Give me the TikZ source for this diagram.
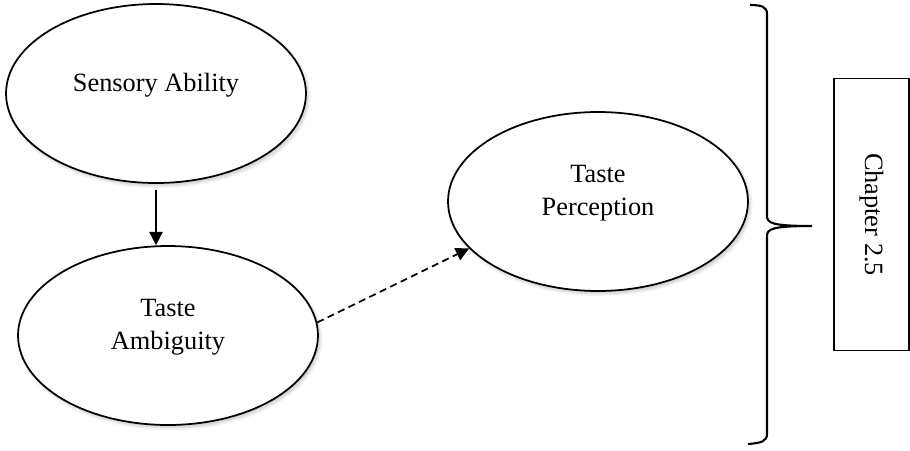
\documentclass[tikz,border=0pt]{standalone}
\usepackage{fontspec}
\setmainfont{Liberation Serif}
\usetikzlibrary{arrows.meta,shadows.blur,shapes.geometric}

\tikzset{
  oval/.style={ellipse, draw=black, line width=1pt, fill=white,
    minimum width=6cm, minimum height=3.58cm, inner sep=0pt,
    blur shadow={shadow xshift=1.2pt, shadow yshift=-1.6pt,
      shadow blur steps=6, shadow opacity=22}},
  ovaltext/.style={align=center, yshift=0.16cm,
    font=\fontsize{15}{18.8}\selectfont},
  link/.style={line width=1pt, -{Triangle[length=7.5pt,width=7.5pt]}},
  dashlink/.style={link, dash pattern=on 4pt off 2.6pt},
  chapterbox/.style={draw=black, line width=1pt, rectangle, rotate=-90,
    minimum width=5.44cm, minimum height=1.5cm, inner sep=0pt,
    font=\fontsize{15}{18.8}\selectfont},
  bracket/.style={line width=1.2pt, line join=round}
}

\begin{document}
\begin{tikzpicture}[x=0.02cm, y=-0.02cm]
  \useasboundingbox (0,0) rectangle (910,450);

  % the three constructs
  \node[oval, label={[ovaltext, name=satext]center:Sensory Ability}] (sa) at (156,93.5) {};
  \node[oval, label={[ovaltext, name=tatext]center:Taste\\Ambiguity}] (ta) at (168,335.5) {};
  \node[oval, label={[ovaltext, name=tptext]center:Taste\\Perception}] (tp) at (598,201.5) {};

  % relations
  \draw[link, shorten <=0.12cm] (sa.south) -- (sa.south |- ta.north);
  \draw[dashlink] (ta.5) -- (tp.200);

  % curly bracket grouping the model
  \coordinate (bracetip) at (812,226);
  \draw[bracket]
    (750,5) .. controls (762,5) and (767,7) .. (767,14)
    -- (767,216) .. controls (767,223) and (772,226) .. (bracetip)
    (767,236) .. controls (767,229) and (772,226) .. (bracetip)
    (767,236) -- (767,434) .. controls (767,441) and (762,443) .. (748,444);

  % chapter reference
  \node[chapterbox] (chap) at (871.5,214.5) {Chapter 2.5};
\end{tikzpicture}
\end{document}
